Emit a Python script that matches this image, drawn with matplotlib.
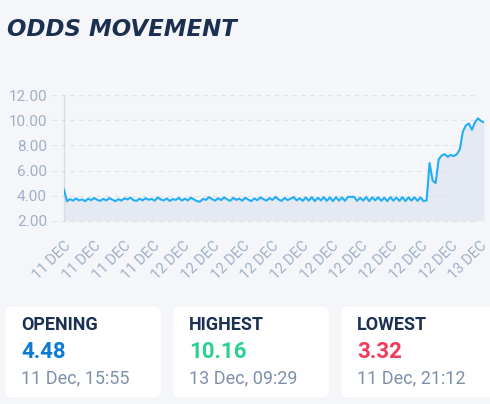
import numpy as np
import matplotlib
matplotlib.use('Agg')
import matplotlib.pyplot as plt
from matplotlib.patches import FancyBboxPatch
from matplotlib.transforms import blended_transform_factory

# ---------------- data ----------------
odds_open = [4.48]
odds_dec11 = [3.55, 3.72, 3.60, 3.78, 3.62, 3.70, 3.56, 3.76, 3.64, 3.82,
              3.66, 3.58, 3.74, 3.62, 3.80, 3.68, 3.56, 3.72, 3.60, 3.78,
              3.70, 3.84, 3.64, 3.58, 3.76, 3.62, 3.80, 3.66, 3.74, 3.60,
              3.86, 3.70, 3.62, 3.78, 3.58, 3.72, 3.66, 3.82, 3.60, 3.76]
odds_dec12_a = [3.62, 3.84, 3.70, 3.56, 3.52, 3.74, 3.66, 3.88, 3.72, 3.60,
                3.80, 3.64, 3.86, 3.70, 3.58, 3.82, 3.66, 3.76, 3.60, 3.84,
                3.68, 3.56, 3.78, 3.64, 3.86, 3.72, 3.60, 3.80, 3.66, 3.90,
                3.70, 3.58, 3.82, 3.64, 3.76, 3.88, 3.62, 3.80]
odds_dec12_b = [3.58, 3.86, 3.60, 3.88, 3.56, 3.84, 3.62, 3.88, 3.58, 3.86,
                3.56, 3.88, 3.60, 3.86, 3.58, 3.90, 3.90, 3.90, 3.58, 3.84,
                3.60, 3.88, 3.56, 3.86, 3.62, 3.88, 3.58, 3.84, 3.56, 3.88,
                3.60, 3.86, 3.58, 3.88, 3.56, 3.86, 3.60, 3.88, 3.58, 3.86,
                3.56, 3.62]
odds_rise = [6.60, 5.20, 5.00, 6.90, 7.20, 7.30, 7.10, 7.25, 7.15, 7.30,
             7.70, 9.10, 9.60, 9.75, 9.25, 9.85, 10.16, 9.95, 9.85]
odds = odds_open + odds_dec11 + odds_dec12_a + odds_dec12_b + odds_rise

tick_labels = ['11 DEC'] * 4 + ['12 DEC'] * 10 + ['13 DEC']
y_ticks = [2, 4, 6, 8, 10, 12]

card_titles = ['OPENING', 'HIGHEST', 'LOWEST']
card_values = ['4.48', '10.16', '3.32']
card_dates = ['11 Dec, 15:55', '13 Dec, 09:29', '11 Dec, 21:12']
card_colors = ['#0b7bd3', '#2ad08e', '#f23b5b']

# ---------------- figure ----------------
W, H = 490, 404
BG = '#f4f6f9'
fig = plt.figure(figsize=(W / 100, H / 100), dpi=100, facecolor=BG)

# overlay in pixel coordinates for title and cards
ov = fig.add_axes([0, 0, 1, 1], zorder=0)
ov.set_xlim(0, W)
ov.set_ylim(H, 0)
ov.axis('off')
ov.patch.set_alpha(0)

ov.text(7, 36, 'ODDS MOVEMENT', fontsize=16.5, fontweight='bold', style='italic',
        family='DejaVu Sans', color='#1b2f50', va='baseline', ha='left')

card_x = [5, 173, 341]
for cx, t, v, d, c in zip(card_x, card_titles, card_values, card_dates, card_colors):
    ov.add_patch(FancyBboxPatch((cx, 307), 156, 90, boxstyle='round,pad=0,rounding_size=6',
                                facecolor='white', edgecolor='none'))
    ov.text(cx + 16, 330, t, fontsize=13, fontweight='bold', family='Roboto',
            color='#1b3152', va='baseline')
    ov.text(cx + 16, 358, v, fontsize=16, fontweight='bold', family='Roboto',
            color=c, va='baseline')
    ov.text(cx + 16, 383, d, fontsize=13, family='Roboto',
            color='#7d90a9', va='baseline')

# chart axes
top_px, bot_px = 95.3, 220.7
ax = fig.add_axes([64 / W, (H - bot_px) / H, 420 / W, (bot_px - top_px) / H], zorder=1)
ax.patch.set_alpha(0)
x = np.arange(len(odds))
ax.fill_between(x, odds, 2, color='#e4e9f2', lw=0, zorder=1)
ax.plot(x, odds, color='#22aef5', lw=1.5, zorder=3, solid_joinstyle='round')
ax.set_xlim(0, len(odds) - 1)
ax.set_ylim(2, 12)

tr = blended_transform_factory(ax.transAxes, ax.transData)
for yv in y_ticks:
    ax.plot([-12 / 420, 414 / 420], [yv, yv], transform=tr, color='#dde3eb', lw=0.8,
            dashes=(4, 4), clip_on=False, zorder=2)

for s in ['top', 'right', 'bottom']:
    ax.spines[s].set_visible(False)
ax.spines['left'].set_color('#d6dde7')
ax.spines['left'].set_linewidth(1.0)

ax.set_yticks(y_ticks, [f'{v:.2f}' for v in y_ticks])
ax.tick_params(axis='y', length=0, pad=12.2, labelsize=11, labelcolor='#a0b0c6')
for lbl in ax.get_yticklabels():
    lbl.set_family('Roboto')

tick_pos = np.linspace(0, (len(odds) - 1) * 416 / 420, len(tick_labels))
ax.set_xticks(tick_pos, tick_labels)
ax.tick_params(axis='x', length=0, pad=13, labelsize=10.5, labelcolor='#a0b0c6')
for lbl in ax.get_xticklabels():
    lbl.set_rotation(45)
    lbl.set_ha('right')
    lbl.set_va('top')
    lbl.set_rotation_mode('anchor')
    lbl.set_family('Roboto')

fig.savefig('out.png', dpi=100, facecolor=BG)
